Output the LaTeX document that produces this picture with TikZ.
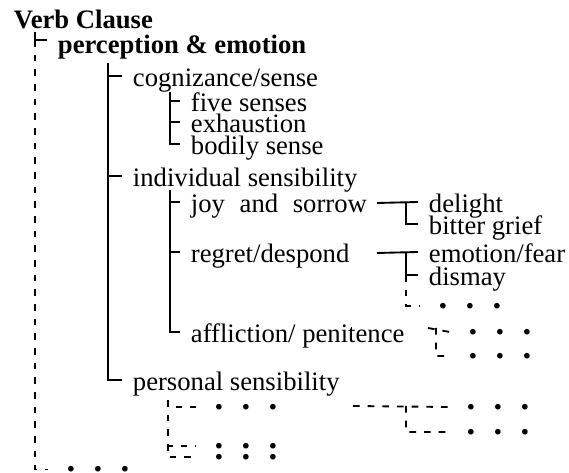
\documentclass[tikz,border=0pt]{standalone}
\usepackage{fontspec}
\setmainfont{Liberation Serif}
\usetikzlibrary{calc}

\begin{document}
\begin{tikzpicture}[x=0.75pt,y=-0.75pt,line width=1.4pt]
    % `entry' is used for the words of the tree, `head' for the bold ones.
    % `etc' is used for the rows of dots, `open' for the dashed links.
    \tikzstyle{entry} = [anchor=base west,inner xsep=7.5pt,inner ysep=0pt,text height=16.5pt,text depth=0pt,font=\fontsize{20}{24}\selectfont]
    \tikzstyle{head} = [entry,text height=21pt,font=\fontsize{20}{24}\selectfont\bfseries]
    \tikzstyle{etc} = [anchor=base west,inner xsep=13.5pt,inner ysep=0pt,text height=3.75pt,text depth=0pt,font=\fontsize{26}{28}\selectfont\bfseries]
    \tikzstyle{open} = [dash pattern=on 5pt off 6pt]
    \newcommand{\etcdots}{.\hspace{13.75pt}.\hspace{13.75pt}.}
    %
    \useasboundingbox (0,0) rectangle (569,473);
    % Words.
    \node[head] (vc) at (3,29) {Verb Clause};
    \node[head] (pe) at (47,54) {perception \& emotion};
    \node[entry] (cs) at (122,87) {cognizance/sense};
    \node[entry] (fs) at (180,112) {five senses};
    \node[entry] (ex) at (180,133) {exhaustion};
    \node[entry] (bs) at (180,155) {bodily sense};
    \node[entry] (is) at (122,187) {individual sensibility};
    \node[entry] (js) at (180,213) {joy\hspace{0.55em}and\hspace{0.55em}sorrow};
    \node[entry] (rd) at (180,263) {regret/despond};
    \node[entry] (ap) at (180,343) {affliction/ penitence};
    \node[entry] (dl) at (418,213) {delight};
    \node[entry] (bg) at (418,235) {bitter grief};
    \node[entry] (ef) at (418,263) {emotion/fear};
    \node[entry] (dm) at (418,286) {dismay};
    \node[entry] (ps) at (122,391) {personal sensibility};
    % Dots.
    \node[etc] (etcA) at (419.7,308.5) {\etcdots};
    \node[etc] (etcB) at (449.7,334.5) {\etcdots};
    \node[etc] (etcC) at (449.7,358.5) {\etcdots};
    \node[etc] (etcD) at (195.7,409.5) {\etcdots};
    \node[etc] (etcE) at (447.7,409.5) {\etcdots};
    \node[etc] (etcF) at (447.7,434.5) {\etcdots};
    \node[etc] (etcG) at (195.7,448.5) {\etcdots};
    \node[etc] (etcH) at (195.7,459.5) {\etcdots};
    \node[etc] (etcI) at (47.7,472) {\etcdots};
    % Branch points.
    \coordinate (v0) at (35,32);
    \coordinate (a0) at (108,63);
    \coordinate (b0) at (170,92);
    \coordinate (c0) at (170,190);
    \coordinate (j1) at (377,203);
    \coordinate (j2) at (406,203);
    \coordinate (r1) at (377,253);
    \coordinate (r2) at (406,253);
    \coordinate (p1) at (428,328);
    \coordinate (p2) at (436,328);
    \coordinate (q0) at (168,400);
    \coordinate (e0) at (353,406);
    \coordinate (e1) at (406,406);
    % Draw lines.
    \draw (v0) |- (pe.west);
    \draw (a0) |- (cs.west)  (a0) |- (is.west)  (a0) |- (ps.west);
    \draw (b0) |- (fs.west)  (b0) |- (ex.west)  (b0) |- (bs.west);
    \draw (c0) |- (js.west)  (c0) |- (rd.west)  (c0) |- (ap.west);
    \draw (j1) -- (dl.west)  (j2) |- (bg.west);
    \draw (r1) -- (ef.west)  (r2) |- (dm.west);
    % Draw open links.
    \draw[open] (pe.west -| v0) |- (etcI.west);
    \draw[open] (dm.west -| r2) |- (etcA.west);
    \draw[open] (p1) -- (etcB.west)  (p2) |- (etcC.west);
    \draw[open] (q0) |- (etcD.west)  (q0) |- (etcG.west)  (q0) |- (etcH.west);
    \draw[open] (e0) -- (etcE.west)  (e1) |- (etcF.west);
\end{tikzpicture}
\end{document}
